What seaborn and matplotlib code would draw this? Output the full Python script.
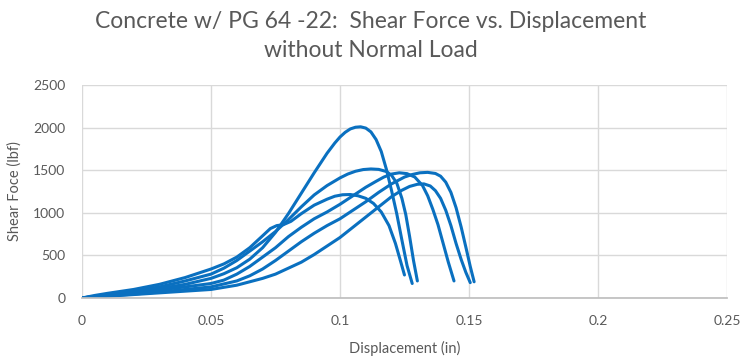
import numpy as np
import pandas as pd
import matplotlib
matplotlib.use("Agg")
import matplotlib.pyplot as plt
from matplotlib.ticker import MultipleLocator
import seaborn as sns

# Displacement (in) / shear force (lbf), one pair per specimen
disp_a = [0, 0.01, 0.02, 0.03, 0.04, 0.05, 0.055, 0.06, 0.065, 0.07, 0.075, 0.08, 0.085, 0.09,
          0.095, 0.098, 0.1, 0.102, 0.104, 0.106, 0.108, 0.11, 0.112, 0.114, 0.116, 0.118,
          0.12, 0.122, 0.124, 0.126, 0.128]
force_a = [0, 35, 70, 110, 160, 230, 285, 355, 455, 590, 770, 990, 1230, 1470,
           1700, 1820, 1890, 1945, 1985, 2005, 2010, 1995, 1950, 1860, 1720, 1510,
           1260, 990, 680, 380, 170]

disp_b = [0, 0.01, 0.02, 0.03, 0.04, 0.05, 0.055, 0.06, 0.065, 0.07, 0.075, 0.08, 0.085, 0.09,
          0.095, 0.1, 0.103, 0.106, 0.109, 0.112, 0.115, 0.118, 0.12, 0.122, 0.124, 0.1255,
          0.127, 0.1285, 0.130]
force_b = [0, 40, 80, 130, 200, 280, 350, 440, 550, 660, 780, 920, 1070, 1210,
           1320, 1410, 1455, 1488, 1508, 1515, 1510, 1485, 1440, 1350, 1170, 980,
           720, 440, 200]

disp_c = [0, 0.01, 0.02, 0.03, 0.04, 0.05, 0.055, 0.06, 0.065, 0.07, 0.075, 0.08, 0.085, 0.09,
          0.095, 0.1, 0.105, 0.11, 0.114, 0.117, 0.12, 0.123, 0.126, 0.129, 0.132, 0.134,
          0.136, 0.138, 0.14, 0.142, 0.1442]
force_c = [0, 30, 60, 95, 130, 170, 210, 280, 370, 480, 590, 720, 830, 930,
           1010, 1100, 1200, 1300, 1370, 1420, 1455, 1470, 1460, 1420, 1320, 1200,
           1040, 860, 640, 420, 200]

disp_d = [0, 0.01, 0.02, 0.03, 0.04, 0.05, 0.06, 0.065, 0.07, 0.075, 0.08, 0.085, 0.09, 0.095,
          0.1, 0.105, 0.11, 0.115, 0.12, 0.125, 0.128, 0.131, 0.134, 0.137, 0.139, 0.141,
          0.143, 0.145, 0.147, 0.149, 0.1505, 0.152]
force_d = [0, 25, 45, 70, 100, 130, 200, 260, 340, 440, 550, 660, 760, 850,
           930, 1030, 1130, 1240, 1340, 1420, 1450, 1470, 1475, 1462, 1430, 1360,
           1240, 1060, 830, 570, 370, 190]

disp_e = [0, 0.01, 0.02, 0.03, 0.04, 0.05, 0.06, 0.065, 0.07, 0.075, 0.08, 0.085, 0.09, 0.095,
          0.1, 0.105, 0.11, 0.115, 0.12, 0.124, 0.127, 0.13, 0.1325, 0.135, 0.137, 0.139,
          0.141, 0.143, 0.145, 0.147, 0.1488, 0.1505]
force_e = [0, 20, 40, 60, 80, 100, 150, 190, 230, 280, 350, 420, 510, 610,
           710, 830, 950, 1070, 1190, 1265, 1310, 1335, 1340, 1315, 1260, 1170,
           1030, 850, 640, 450, 300, 180]

disp_f = [0, 0.005, 0.01, 0.02, 0.03, 0.04, 0.05, 0.055, 0.06, 0.065, 0.07, 0.073, 0.0755,
          0.078, 0.081, 0.085, 0.09, 0.095, 0.098, 0.101, 0.104, 0.107, 0.11, 0.113, 0.116,
          0.119, 0.1215, 0.1235, 0.125]
force_f = [0, 30, 55, 100, 160, 240, 340, 400, 480, 590, 730, 815, 850,
           860, 900, 990, 1090, 1160, 1195, 1212, 1215, 1200, 1170, 1110, 1010,
           850, 640, 430, 270]

x_ticks = [0, 0.05, 0.1, 0.15, 0.2, 0.25]
x_tick_labels = ["0", "0.05", "0.1", "0.15", "0.2", "0.25"]
y_ticks = [0, 500, 1000, 1500, 2000, 2500]

curves = {
    "A": (disp_a, force_a), "B": (disp_b, force_b), "C": (disp_c, force_c),
    "D": (disp_d, force_d), "E": (disp_e, force_e), "F": (disp_f, force_f),
}
df = pd.concat(
    [pd.DataFrame({"disp": d, "force": f, "test": k}) for k, (d, f) in curves.items()],
    ignore_index=True,
)

sns.set_theme(style="white")
plt.rcParams["font.family"] = ["Lato", "DejaVu Sans"]

line_color = "#0A70C0"
text_color = "#595959"
grid_color = "#D9D9D9"

fig = plt.figure(figsize=(7.41, 3.59), dpi=100)
ax = fig.add_axes([0.1107, 0.170, 0.8703, 0.593])

sns.lineplot(data=df, x="disp", y="force", units="test", estimator=None, sort=False,
             color=line_color, linewidth=2.2, ax=ax, legend=False,
             solid_joinstyle="round", solid_capstyle="round")

ax.set_xlim(0, 0.25)
ax.set_ylim(0, 2500)
ax.set_xticks(x_ticks)
ax.set_xticklabels(x_tick_labels)
ax.set_yticks(y_ticks)
ax.xaxis.set_minor_locator(MultipleLocator(0.01))
ax.grid(True, which="major", color=grid_color, linewidth=1)
for side in ["top", "right", "left"]:
    ax.spines[side].set_visible(False)
ax.spines["bottom"].set_color("#BFBFBF")
ax.tick_params(axis="x", which="both", direction="out", length=4, color="#BFBFBF",
               labelsize=10, labelcolor=text_color, pad=8)
ax.tick_params(axis="y", length=0, labelsize=10, labelcolor=text_color, pad=12)

ax.set_xlabel("Displacement (in)", color=text_color, fontsize=10.5, labelpad=10)
ax.set_ylabel("Shear Foce (lbf)", color=text_color, fontsize=10.5, labelpad=8)

fig.text(0.5, 0.900, "Concrete w/ PG 64 -22:  Shear Force vs. Displacement\nwithout Normal Load",
         ha="center", va="center", fontsize=16.5, color=text_color, linespacing=1.45)

fig.savefig("out.png", dpi=100)
plt.close(fig)
